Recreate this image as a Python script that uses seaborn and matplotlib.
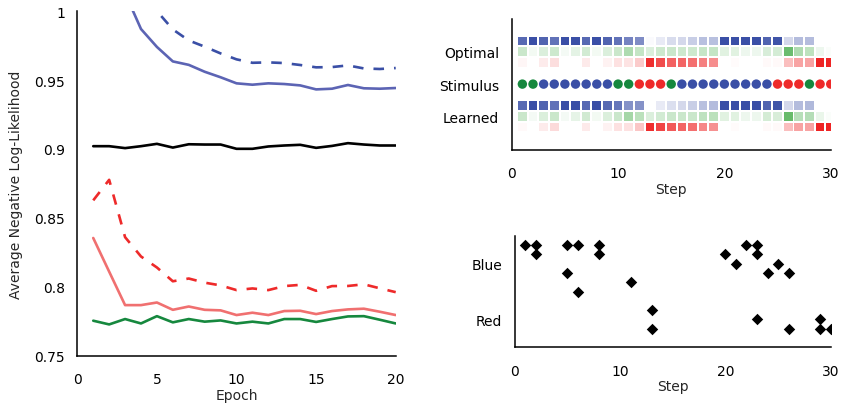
import numpy as np
import pandas as pd
import matplotlib
matplotlib.use("Agg")
import matplotlib.pyplot as plt
from matplotlib.colors import LinearSegmentedColormap
import seaborn as sns

# ---------------- data: left panel ----------------
epochs = list(range(1, 21))
blue_learned = [1.08, 1.04, 1.013, 0.987, 0.974, 0.9635, 0.961, 0.956, 0.952, 0.9476,
                0.9466, 0.9476, 0.9471, 0.9461, 0.9432, 0.9437, 0.9464, 0.944, 0.9437, 0.9442]
blue_optimal = [1.12, 1.07, 1.04, 1.02, 1.0, 0.9867, 0.9787, 0.9742, 0.9693, 0.965,
                0.9625, 0.9628, 0.9623, 0.9609, 0.9592, 0.9594, 0.9606, 0.9584, 0.958, 0.9587]
overall = [0.902, 0.902, 0.9006, 0.902, 0.9037, 0.901, 0.9034, 0.9032, 0.9032, 0.9001,
           0.9001, 0.9018, 0.9025, 0.903, 0.9008, 0.9022, 0.9042, 0.9032, 0.9025, 0.9025]
red_optimal = [0.8627, 0.8776, 0.836, 0.822, 0.814, 0.804, 0.806, 0.803, 0.801, 0.7976,
               0.7988, 0.7976, 0.8005, 0.8014, 0.7971, 0.8005, 0.8006, 0.8018, 0.7989, 0.7961]
red_learned = [0.8354, 0.811, 0.7867, 0.7867, 0.7886, 0.7833, 0.7857, 0.7833, 0.7829, 0.7795,
               0.7812, 0.7795, 0.7824, 0.7826, 0.7802, 0.7824, 0.7836, 0.7841, 0.7819, 0.7795]
green_line = [0.7754, 0.7727, 0.7766, 0.7734, 0.7787, 0.7742, 0.7766, 0.7747, 0.7756, 0.7734,
              0.7747, 0.7734, 0.7766, 0.7766, 0.7745, 0.7766, 0.7785, 0.7787, 0.7761, 0.7734]
y_ticks_left = [0.75, 0.8, 0.85, 0.9, 0.95, 1.0]
y_ticklabels_left = ["0.75", "0.8", "0.85", "0.9", "0.95", "1"]
x_ticks_left = [0, 5, 10, 15, 20]

# ---------------- data: top-right panel ----------------
steps = list(range(1, 31))
stimulus = ["green", "green", "blue", "blue", "blue", "blue", "blue", "blue", "blue", "green",
            "green", "red", "red", "red", "green", "blue", "blue", "blue", "blue", "blue",
            "blue", "blue", "blue", "blue", "red", "red", "red", "green", "red", "red"]
opt_blue = [0.85, 1.0, 0.88, 0.8, 1.0, 1.0, 0.85, 1.0, 0.88, 0.8,
            0.7, 0.65, 0.03, 0.12, 0.2, 0.22, 0.28, 0.36, 0.36, 1.0,
            1.0, 1.0, 1.0, 0.88, 0.97, 0.22, 0.38, 0.38, 0.0, 0.0]
opt_green = [0.3, 0.07, 0.2, 0.28, 0.06, 0.15, 0.25, 0.07, 0.2, 0.3,
             0.45, 0.33, 0.2, 0.28, 0.3, 0.28, 0.28, 0.32, 0.33, 0.17,
             0.17, 0.1, 0.1, 0.22, 0.24, 0.83, 0.45, 0.37, 0.1, 0.03]
opt_red = [0.04, 0.0, 0.09, 0.15, 0.0, 0.0, 0.1, 0.0, 0.06, 0.14,
           0.13, 0.24, 0.95, 0.82, 0.72, 0.7, 0.66, 0.58, 0.52, 0.0,
           0.02, 0.0, 0.0, 0.03, 0.03, 0.3, 0.42, 0.42, 1.0, 1.0]
lrn_blue = [0.85, 1.0, 0.88, 0.8, 1.0, 1.0, 0.85, 1.0, 0.85, 0.78,
            0.62, 0.62, 0.0, 0.12, 0.18, 0.22, 0.28, 0.36, 0.38, 1.0,
            1.0, 1.0, 1.0, 0.88, 0.97, 0.22, 0.38, 0.4, 0.0, 0.0]
lrn_green = [0.3, 0.06, 0.2, 0.3, 0.06, 0.14, 0.26, 0.07, 0.2, 0.3,
             0.5, 0.38, 0.2, 0.25, 0.3, 0.3, 0.3, 0.36, 0.38, 0.17,
             0.17, 0.1, 0.1, 0.24, 0.22, 0.85, 0.4, 0.42, 0.12, 0.03]
lrn_red = [0.03, 0.0, 0.09, 0.17, 0.0, 0.0, 0.1, 0.0, 0.06, 0.14,
           0.14, 0.26, 0.95, 0.85, 0.75, 0.7, 0.66, 0.55, 0.5, 0.0,
           0.02, 0.0, 0.0, 0.03, 0.03, 0.3, 0.42, 0.42, 1.0, 1.0]
row_labels = ["Optimal", "Stimulus", "Learned"]
x_ticks_right = [0, 10, 20, 30]

# ---------------- data: bottom-right panel ----------------
pt_steps = [1, 2, 2, 5, 5, 6, 6, 8, 8, 11, 13, 13, 20, 21, 22, 23, 23, 23, 24, 25, 26, 26, 29, 29, 30]
pt_values = [9, 9, 8, 9, 6, 9, 4, 9, 8, 5, 2, 0, 8, 7, 9, 9, 8, 1, 6, 7, 6, 0, 1, 0, 0]
belief_labels = ["Blue", "Red"]
belief_ticks = [7, 1]

# ---------------- style ----------------
sns.set_style("white")
plt.rcParams["font.family"] = ["DejaVu Sans"]
plt.rcParams["font.size"] = 10

C_BLUE_DARK = "#3a4fa6"
C_BLUE_LIGHT = "#5c64b4"
C_RED = "#ee2a2a"
C_RED_LIGHT = "#f07070"
C_GREEN = "#16883e"

fig = plt.figure(figsize=(8.45, 4.06), dpi=100)

# ---------- left panel ----------
ax1 = fig.add_axes([0.0915, 0.1214, 0.3768, 0.8488])
lw = 1.9
dash = (0, (4.0, 3.8))
sns.lineplot(x=epochs, y=blue_learned, color=C_BLUE_LIGHT, linewidth=lw, ax=ax1)
sns.lineplot(x=epochs, y=blue_optimal, color=C_BLUE_DARK, linewidth=lw, linestyle=dash, ax=ax1)
sns.lineplot(x=epochs, y=overall, color="black", linewidth=lw, ax=ax1)
sns.lineplot(x=epochs, y=red_optimal, color=C_RED, linewidth=lw, linestyle=dash, ax=ax1)
sns.lineplot(x=epochs, y=red_learned, color=C_RED_LIGHT, linewidth=lw, ax=ax1)
sns.lineplot(x=epochs, y=green_line, color=C_GREEN, linewidth=lw, ax=ax1)
ax1.set_xlim(0, 20)
ax1.set_ylim(0.75, 1.0)
ax1.set_xticks(x_ticks_left)
ax1.set_yticks(y_ticks_left)
ax1.set_yticklabels(y_ticklabels_left)
ax1.set_xlabel("Epoch", labelpad=1)
ax1.set_ylabel("Average Negative Log-Likelihood", labelpad=8)

# ---------- top-right panel ----------
ax2 = fig.add_axes([0.6056, 0.6288, 0.3775, 0.3219])
ROW_Y = {"ob": 0, "og": 1, "or": 2, "stim": 4.05, "lb": 6.07, "lg": 7.07, "lr": 8.07}


def draw_row(ax, vals, ypos, base):
    cmap = LinearSegmentedColormap.from_list("c", ["#ffffff", base])
    df = pd.DataFrame({"step": steps, "y": [ypos] * len(steps), "p": vals})
    sns.scatterplot(data=df, x="step", y="y", hue="p", palette=cmap, hue_norm=(0, 1),
                    marker="s", s=39, linewidth=0, legend=False, ax=ax)


SQ_BLUE = "#3a4fa6"
SQ_GREEN = "#4caf50"
SQ_RED = "#ee2424"
draw_row(ax2, opt_blue, ROW_Y["ob"], SQ_BLUE)
draw_row(ax2, opt_green, ROW_Y["og"], SQ_GREEN)
draw_row(ax2, opt_red, ROW_Y["or"], SQ_RED)
draw_row(ax2, lrn_blue, ROW_Y["lb"], SQ_BLUE)
draw_row(ax2, lrn_green, ROW_Y["lg"], SQ_GREEN)
draw_row(ax2, lrn_red, ROW_Y["lr"], SQ_RED)
stim_df = pd.DataFrame({"step": steps, "y": [ROW_Y["stim"]] * len(steps), "stim": stimulus})
sns.scatterplot(data=stim_df, x="step", y="y", hue="stim",
                palette={"green": C_GREEN, "blue": C_BLUE_DARK, "red": C_RED},
                marker="o", s=46, linewidth=0, legend=False, ax=ax2)
ax2.set_xlim(0, 30)
ax2.set_ylim(10.2, -2.05)
ax2.set_xticks(x_ticks_right)
ax2.set_yticks([ROW_Y["og"], ROW_Y["stim"], ROW_Y["lg"]])
ax2.set_yticklabels(row_labels)
ax2.set_xlabel("Step", labelpad=1)
ax2.set_ylabel("")

# ---------- bottom-right panel ----------
ax3 = fig.add_axes([0.6091, 0.1421, 0.374, 0.2749])
sns.scatterplot(x=pt_steps, y=pt_values, color="black", marker="D", s=34, linewidth=0, ax=ax3)
ax3.set_xlim(0, 30)
ax3.set_ylim(-2, 10)
ax3.set_xticks(x_ticks_right)
ax3.set_yticks(belief_ticks)
ax3.set_yticklabels(belief_labels)
ax3.set_xlabel("Step", labelpad=1)
ax3.set_ylabel("")

for ax in (ax1, ax2, ax3):
    sns.despine(ax=ax)
    for side in ("left", "bottom"):
        ax.spines[side].set_linewidth(1.1)
        ax.spines[side].set_color("black")
    ax.tick_params(axis="both", length=0, labelsize=10, colors="black")
    ax.tick_params(axis="x", pad=12)
    ax.tick_params(axis="y", pad=9)

fig.savefig("out.png", dpi=100)
